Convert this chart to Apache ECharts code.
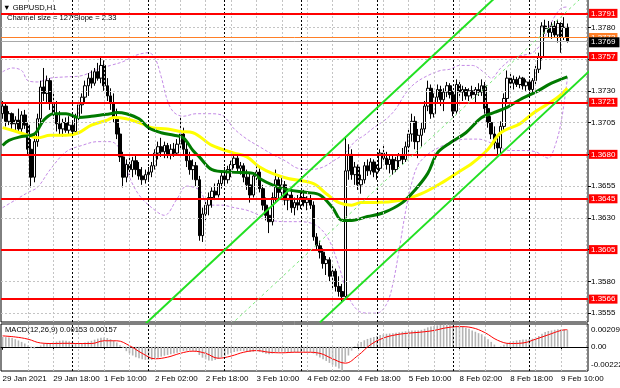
<!DOCTYPE html>
<html><head><meta charset="utf-8">
<script src="https://cdn.jsdelivr.net/npm/echarts@6/dist/echarts.min.js"></script>
<style>html,body{margin:0;padding:0;background:#fff}#c{width:620px;height:388px}</style>
</head><body><div id="c"></div>
<script>
const FONT = '"Liberation Sans", Arial, sans-serif';
const tickLabels = ['29 Jan 2021','29 Jan 18:00','1 Feb 10:00','2 Feb 02:00','2 Feb 18:00','3 Feb 10:00','4 Feb 02:00','4 Feb 18:00','5 Feb 10:00','8 Feb 02:00','8 Feb 18:00','9 Feb 10:00'];
const priceTicks = [1.3555,1.3580,1.3605,1.3630,1.3655,1.3680,1.3705,1.3730,1.3755,1.3780];
const levels = [1.3791,1.3757,1.3721,1.3680,1.3645,1.3605,1.3566];
const orangeLevel = 1.3772;
const bidPrice = 1.3769;
const macdTicks = [0.00209, 0, -0.00222];
const dayStarts = [22,46,70,94,118,142,166];
// hourly candles [open, high, low, close]
const ohlc = [
[1.3712,1.3722,1.3708,1.3718],[1.3718,1.3720,1.3702,1.3706],[1.3706,1.3714,1.3703,1.3712],[1.3712,1.3713,1.3700,1.3704],[1.3704,1.3710,1.3699,1.3707],
[1.3707,1.3716,1.3698,1.3700],[1.3700,1.3714,1.3697,1.3711],[1.3711,1.3715,1.3700,1.3703],[1.3703,1.3705,1.3680,1.3684],[1.3684,1.3692,1.3654,1.3662],
[1.3662,1.3696,1.3658,1.3690],[1.3690,1.3712,1.3686,1.3708],[1.3708,1.3738,1.3704,1.3733],[1.3733,1.3748,1.3722,1.3728],[1.3728,1.3742,1.3720,1.3738],
[1.3738,1.3740,1.3715,1.3720],[1.3720,1.3730,1.3708,1.3712],[1.3712,1.3722,1.3698,1.3704],[1.3704,1.3714,1.3695,1.3700],[1.3700,1.3708,1.3694,1.3705],
[1.3705,1.3709,1.3697,1.3699],[1.3699,1.3710,1.3695,1.3703],[1.3703,1.3706,1.3693,1.3698],[1.3698,1.3712,1.3696,1.3709],[1.3709,1.3722,1.3706,1.3719],
[1.3719,1.3728,1.3712,1.3725],[1.3725,1.3738,1.3720,1.3734],[1.3734,1.3744,1.3726,1.3740],[1.3740,1.3746,1.3732,1.3736],[1.3736,1.3748,1.3734,1.3745],
[1.3745,1.3752,1.3738,1.3740],[1.3740,1.3757,1.3736,1.3750],[1.3750,1.3754,1.3730,1.3734],[1.3734,1.3740,1.3722,1.3726],[1.3726,1.3732,1.3715,1.3720],
[1.3720,1.3728,1.3705,1.3709],[1.3709,1.3716,1.3692,1.3696],[1.3696,1.3701,1.3674,1.3678],[1.3678,1.3682,1.3654,1.3662],[1.3662,1.3676,1.3658,1.3672],
[1.3672,1.3680,1.3664,1.3668],[1.3668,1.3678,1.3662,1.3675],[1.3675,1.3679,1.3664,1.3668],[1.3668,1.3674,1.3660,1.3663],[1.3663,1.3670,1.3656,1.3660],
[1.3660,1.3668,1.3657,1.3664],[1.3664,1.3670,1.3659,1.3666],[1.3666,1.3674,1.3662,1.3671],[1.3671,1.3684,1.3668,1.3681],[1.3681,1.3690,1.3676,1.3686],
[1.3686,1.3693,1.3678,1.3682],[1.3682,1.3690,1.3677,1.3687],[1.3687,1.3689,1.3677,1.3680],[1.3680,1.3688,1.3676,1.3684],[1.3684,1.3689,1.3678,1.3681],
[1.3681,1.3692,1.3679,1.3688],[1.3688,1.3710,1.3684,1.3696],[1.3696,1.3701,1.3680,1.3684],[1.3684,1.3690,1.3670,1.3675],[1.3675,1.3682,1.3664,1.3668],
[1.3668,1.3676,1.3660,1.3671],[1.3671,1.3674,1.3655,1.3660],[1.3660,1.3663,1.3612,1.3616],[1.3616,1.3638,1.3611,1.3633],[1.3633,1.3644,1.3627,1.3640],
[1.3640,1.3650,1.3632,1.3646],[1.3646,1.3654,1.3638,1.3651],[1.3651,1.3657,1.3644,1.3648],[1.3648,1.3660,1.3646,1.3657],[1.3657,1.3667,1.3653,1.3663],
[1.3663,1.3670,1.3656,1.3660],[1.3660,1.3671,1.3657,1.3668],[1.3668,1.3675,1.3662,1.3672],[1.3672,1.3681,1.3669,1.3677],[1.3677,1.3680,1.3666,1.3669],
[1.3669,1.3674,1.3664,1.3671],[1.3671,1.3673,1.3658,1.3662],[1.3662,1.3668,1.3652,1.3656],[1.3656,1.3665,1.3642,1.3648],[1.3648,1.3666,1.3646,1.3663],
[1.3663,1.3673,1.3658,1.3666],[1.3666,1.3669,1.3650,1.3653],[1.3653,1.3656,1.3636,1.3640],[1.3640,1.3646,1.3628,1.3632],[1.3632,1.3638,1.3618,1.3627],
[1.3627,1.3650,1.3624,1.3646],[1.3646,1.3668,1.3642,1.3660],[1.3660,1.3664,1.3645,1.3650],[1.3650,1.3662,1.3644,1.3656],[1.3656,1.3659,1.3640,1.3644],
[1.3644,1.3652,1.3636,1.3648],[1.3648,1.3651,1.3634,1.3638],[1.3638,1.3646,1.3632,1.3642],[1.3642,1.3648,1.3636,1.3640],[1.3640,1.3650,1.3637,1.3646],
[1.3646,1.3652,1.3639,1.3642],[1.3642,1.3647,1.3636,1.3645],[1.3645,1.3648,1.3637,1.3640],[1.3640,1.3643,1.3612,1.3615],[1.3615,1.3618,1.3604,1.3608],
[1.3608,1.3612,1.3598,1.3603],[1.3603,1.3606,1.3590,1.3594],[1.3594,1.3600,1.3585,1.3597],[1.3597,1.3599,1.3580,1.3584],[1.3584,1.3592,1.3574,1.3588],
[1.3588,1.3590,1.3572,1.3576],[1.3576,1.3584,1.3568,1.3572],[1.3572,1.3578,1.3563,1.3568],[1.3568,1.3694,1.3566,1.3667],[1.3667,1.3688,1.3660,1.3680],
[1.3680,1.3684,1.3660,1.3664],[1.3664,1.3674,1.3656,1.3670],[1.3670,1.3672,1.3652,1.3656],[1.3656,1.3664,1.3649,1.3660],[1.3660,1.3674,1.3657,1.3671],
[1.3671,1.3676,1.3663,1.3667],[1.3667,1.3677,1.3664,1.3674],[1.3674,1.3676,1.3662,1.3666],[1.3666,1.3672,1.3660,1.3669],[1.3669,1.3684,1.3667,1.3681],
[1.3681,1.3688,1.3674,1.3677],[1.3677,1.3682,1.3668,1.3672],[1.3672,1.3680,1.3665,1.3676],[1.3676,1.3679,1.3664,1.3668],[1.3668,1.3678,1.3666,1.3675],
[1.3675,1.3681,1.3670,1.3679],[1.3679,1.3685,1.3672,1.3676],[1.3676,1.3690,1.3674,1.3686],[1.3686,1.3700,1.3680,1.3696],[1.3696,1.3712,1.3690,1.3706],
[1.3706,1.3710,1.3684,1.3690],[1.3690,1.3700,1.3677,1.3695],[1.3695,1.3705,1.3686,1.3700],[1.3700,1.3722,1.3697,1.3718],[1.3718,1.3738,1.3714,1.3732],
[1.3732,1.3735,1.3708,1.3712],[1.3712,1.3728,1.3709,1.3725],[1.3725,1.3735,1.3721,1.3731],[1.3731,1.3734,1.3718,1.3723],[1.3723,1.3732,1.3714,1.3729],
[1.3729,1.3737,1.3725,1.3734],[1.3734,1.3736,1.3724,1.3727],[1.3727,1.3730,1.3710,1.3714],[1.3714,1.3739,1.3712,1.3735],[1.3735,1.3738,1.3726,1.3729],
[1.3729,1.3734,1.3722,1.3731],[1.3731,1.3733,1.3723,1.3726],[1.3726,1.3732,1.3722,1.3730],[1.3730,1.3734,1.3724,1.3727],[1.3727,1.3733,1.3721,1.3731],
[1.3731,1.3736,1.3726,1.3729],[1.3729,1.3739,1.3726,1.3734],[1.3734,1.3737,1.3712,1.3716],[1.3716,1.3720,1.3701,1.3705],[1.3705,1.3710,1.3692,1.3696],
[1.3696,1.3702,1.3684,1.3689],[1.3689,1.3694,1.3680,1.3685],[1.3685,1.3706,1.3680,1.3702],[1.3702,1.3728,1.3698,1.3724],[1.3724,1.3746,1.3720,1.3740],
[1.3740,1.3744,1.3732,1.3736],[1.3736,1.3742,1.3731,1.3739],[1.3739,1.3741,1.3733,1.3735],[1.3735,1.3742,1.3732,1.3740],[1.3740,1.3741,1.3731,1.3734],
[1.3734,1.3739,1.3730,1.3737],[1.3737,1.3739,1.3728,1.3731],[1.3731,1.3740,1.3728,1.3738],[1.3738,1.3750,1.3735,1.3747],[1.3747,1.3760,1.3744,1.3757],
[1.3757,1.3784,1.3754,1.3781],[1.3781,1.3786,1.3775,1.3779],[1.3779,1.3785,1.3772,1.3776],[1.3776,1.3784,1.3771,1.3781],[1.3781,1.3785,1.3772,1.3774],
[1.3774,1.3786,1.3768,1.3783],[1.3783,1.3784,1.3760,1.3772],[1.3772,1.3788,1.3770,1.3780],[1.3780,1.3783,1.3768,1.3769]
];
// moving averages and bands, sampled [bar, price]
const maGreen = [[0,1.3687],[2,1.3691],[6,1.3694],[10,1.3696],[13,1.3707],[16,1.3712],[20,1.3712],[24,1.3709],[28,1.3710],[31,1.3711],[34,1.3712],[36,1.3713],[39,1.3712],[43,1.3708],[46,1.3701],[50,1.3697],[54,1.3695],[57,1.3693],[60,1.3683],[62,1.3678],[66,1.3668],[72,1.3666],[79,1.3665],[81,1.3661],[85,1.3656],[90,1.3652],[96,1.3650],[100,1.3648],[104,1.3638],[107,1.3628],[110,1.3628],[115,1.3631],[120,1.3634],[126,1.3642],[130,1.3652],[134,1.3665],[137,1.3681],[141,1.3689],[146,1.3697],[151,1.3709],[155,1.3713],[159,1.3717],[163,1.3723],[168,1.3729],[173,1.3736],[178,1.3741]];
const maYellow = [[0,1.3701],[3,1.3699],[8,1.3695],[11,1.3693],[15,1.3695],[20,1.3695],[24,1.3697],[28,1.3703],[33,1.3707],[35,1.3709],[39,1.3708],[44,1.3704],[47,1.3701],[52,1.3700],[56,1.3698],[60,1.3697],[66,1.3687],[73,1.3681],[77,1.3678],[81,1.3670],[85,1.3665],[90,1.3661],[98,1.3657],[102,1.3649],[106,1.3642],[110,1.3640],[113,1.3642],[117,1.3642],[126,1.3644],[132,1.3649],[138,1.3657],[143,1.3665],[148,1.3673],[153,1.3684],[157,1.3697],[163,1.3704],[167,1.3712],[172,1.3720],[175,1.3725],[178,1.3732]];
const bandUpper = [[0,1.3745],[3,1.3748],[6,1.3746],[8,1.3738],[11,1.3737],[15,1.3740],[20,1.3741],[25,1.3742],[30,1.3747],[34,1.3750],[38,1.3753],[42,1.3758],[46,1.3760],[48,1.3756],[50,1.3741],[52,1.3722],[54,1.3713],[57,1.3710],[61,1.3712],[65,1.3712],[69,1.3711],[73,1.3700],[77,1.3692],[81,1.3686],[85,1.3680],[89,1.3675],[93,1.3669],[97,1.3668],[101,1.3670],[105,1.3676],[108,1.3681],[111,1.3690],[114,1.3695],[117,1.3701],[121,1.3708],[124,1.3716],[127,1.3728],[130,1.3736],[134,1.3742],[138,1.3746],[141,1.3747],[144,1.3750],[148,1.3750],[152,1.3744],[154,1.3740],[157,1.3748],[161,1.3756],[164,1.3758],[167,1.3760],[170,1.3768],[173,1.3784],[176,1.3795],[178,1.3796]];
const bandLower = [[0,1.3638],[4,1.3644],[8,1.3650],[11,1.3654],[15,1.3668],[20,1.3682],[25,1.3687],[30,1.3690],[34,1.3690],[37,1.3684],[40,1.3662],[43,1.3648],[47,1.3638],[51,1.3632],[55,1.3645],[58,1.3655],[62,1.3652],[65,1.3640],[69,1.3640],[73,1.3638],[77,1.3636],[81,1.3632],[85,1.3628],[89,1.3627],[93,1.3627],[97,1.3626],[100,1.3622],[103,1.3612],[106,1.3592],[109,1.3568],[112,1.3557],[115,1.3555],[118,1.3555],[121,1.3562],[123,1.3578],[125,1.3605],[127,1.3635],[129,1.3658],[131,1.3672],[134,1.3680],[138,1.3686],[142,1.3690],[146,1.3692],[150,1.3692],[153,1.3690],[156,1.3686],[160,1.3683],[164,1.3683],[168,1.3682],[172,1.3677],[174,1.3686],[176,1.3705],[178,1.3740]];
// regression channel end points [bar, price]
const channelLower = [[100,1.35477],[185,1.37457]];
const channelUpper = [[45,1.35465],[155,1.38028]];
const channelMid = [[72,1.35460],[183,1.38046]];
// MACD(12,26,9)
const macdHist = [
0.00090,0.00088,0.00085,0.00080,0.00070,0.00058,0.00045,0.00030,0.00012,-0.00010,
-0.00015,-0.00002,0.00012,0.00025,0.00030,0.00032,0.00040,0.00048,0.00055,0.00058,
0.00056,0.00050,0.00042,0.00035,0.00030,0.00032,0.00040,0.00048,0.00055,0.00065,
0.00075,0.00082,0.00085,0.00080,0.00070,0.00058,0.00040,0.00015,-0.00010,-0.00040,
-0.00060,-0.00080,-0.00095,-0.00105,-0.00115,-0.00120,-0.00122,-0.00120,-0.00112,-0.00100,
-0.00090,-0.00082,-0.00075,-0.00068,-0.00062,-0.00055,-0.00045,-0.00040,-0.00036,-0.00034,
-0.00036,-0.00040,-0.00075,-0.00100,-0.00115,-0.00125,-0.00128,-0.00120,-0.00110,-0.00098,
-0.00085,-0.00070,-0.00058,-0.00048,-0.00042,-0.00038,-0.00038,-0.00042,-0.00048,-0.00045,
-0.00040,-0.00046,-0.00055,-0.00063,-0.00068,-0.00062,-0.00052,-0.00048,-0.00046,-0.00048,
-0.00048,-0.00050,-0.00050,-0.00050,-0.00048,-0.00046,-0.00045,-0.00046,-0.00062,-0.00080,
-0.00098,-0.00115,-0.00130,-0.00148,-0.00165,-0.00182,-0.00200,-0.00222,-0.00140,-0.00080,
-0.00035,0.00005,0.00030,0.00045,0.00060,0.00072,0.00082,0.00090,0.00098,0.00108,
0.00115,0.00120,0.00122,0.00125,0.00128,0.00132,0.00138,0.00142,0.00145,0.00150,
0.00150,0.00150,0.00155,0.00165,0.00178,0.00185,0.00190,0.00196,0.00200,0.00205,
0.00209,0.00205,0.00195,0.00195,0.00192,0.00185,0.00175,0.00165,0.00150,0.00138,
0.00125,0.00115,0.00095,0.00070,0.00045,0.00020,0.00000,0.00005,0.00018,0.00035,
0.00045,0.00052,0.00058,0.00062,0.00066,0.00068,0.00070,0.00075,0.00085,0.00100,
0.00120,0.00135,0.00145,0.00150,0.00156,0.00160,0.00160,0.00158,0.00153
];
const macdSignal = [[0,0.00100],[4,0.00090],[8,0.00070],[12,0.00035],[16,0.00030],[20,0.00032],[24,0.00030],[28,0.00030],[32,0.00055],[36,0.00055],[40,0.00010],[44,-0.00060],[48,-0.00110],[52,-0.00095],[56,-0.00060],[60,-0.00040],[64,-0.00060],[68,-0.00105],[72,-0.00085],[76,-0.00050],[80,-0.00035],[84,-0.00050],[88,-0.00055],[92,-0.00050],[96,-0.00050],[100,-0.00060],[104,-0.00110],[108,-0.00150],[112,-0.00080],[116,0.00020],[120,0.00080],[124,0.00110],[128,0.00125],[132,0.00135],[136,0.00150],[140,0.00175],[144,0.00185],[148,0.00175],[152,0.00130],[156,0.00060],[160,0.00030],[164,0.00035],[168,0.00070],[172,0.00110],[176,0.00150],[178,0.00157]];

// hourly category axis (weekends skipped)
const N = 185;
const categories = [];
(function () {
  const M = ['Jan', 'Feb'];
  let t = Date.UTC(2021, 0, 29, 2);
  while (categories.length < N) {
    const d = new Date(t), wd = d.getUTCDay();
    if (wd !== 0 && wd !== 6) categories.push(d.getUTCDate() + ' ' + M[d.getUTCMonth()] + ' ' + String(d.getUTCHours()).padStart(2, '0') + ':00');
    t += 3600000;
  }
})();
const gridBars = [];
for (let i = 8; i < N; i += 8) gridBars.push(i);

const candleData = ohlc.map(r => [r[0], r[3], r[2], r[1]]);

const chart = echarts.init(document.getElementById('c'));
const gridLineStyle = { color: '#c4c4c4', type: [2, 2], width: 1 };
const sepStyle = { color: '#000', type: [2, 2], width: 1 };
function ml(data, lineStyle, label) {
  return { silent: true, animation: false, precision: 6, symbol: ['none', 'none'], lineStyle, label: label || { show: false }, emphasis: { disabled: true }, data };
}
function levelLabel(bg) {
  return { show: true, position: 'end', distance: 1, formatter: p => Number(p.value).toFixed(4), color: '#fff', backgroundColor: bg, padding: [1, 2, 0, 2], fontSize: 8, fontFamily: FONT };
}
const lineSeries = (data, color, width, z, type) => ({ type: 'line', data, symbol: 'none', smooth: 0.35, silent: true, z, lineStyle: { color, width, type: type || 'solid' } });

chart.setOption({
  animation: false,
  backgroundColor: '#fff',
  grid: [
    { left: 1, right: 32, top: -1, height: 323, show: true, borderColor: '#000', borderWidth: 1, backgroundColor: 'transparent', outerBoundsMode: 'none' },
    { left: 1, right: 32, top: 324, height: 47, show: true, borderColor: '#000', borderWidth: 1, backgroundColor: 'transparent', outerBoundsMode: 'none' }
  ],
  xAxis: [
    { type: 'category', gridIndex: 0, data: categories, boundaryGap: true, axisLine: { show: false }, axisTick: { show: false }, axisLabel: { show: false }, splitLine: { show: false } },
    { type: 'category', gridIndex: 1, data: categories, boundaryGap: true,
      axisLine: { show: true, lineStyle: { color: '#000' } },
      axisTick: { show: true, interval: 15, alignWithLabel: true, length: 3, lineStyle: { color: '#000' } },
      axisLabel: { show: true, interval: 15, align: 'left', margin: 4, fontSize: 8, fontFamily: FONT, color: '#000', formatter: (v, i) => tickLabels[i / 16] || '' },
      splitLine: { show: false } }
  ],
  yAxis: [
    { type: 'value', gridIndex: 0, position: 'right', min: 1.3548, max: 1.38023, scale: true,
      axisLine: { show: false }, splitLine: { show: false },
      axisTick: { show: true, customValues: priceTicks, length: 3, lineStyle: { color: '#000' } },
      axisLabel: { show: true, customValues: priceTicks, margin: 3, fontSize: 8, fontFamily: FONT, color: '#000', formatter: v => v.toFixed(4) } },
    { type: 'value', gridIndex: 1, position: 'right', min: -0.00222, max: 0.00209,
      axisLine: { show: false }, splitLine: { show: false },
      axisTick: { show: false },
      axisLabel: { show: true, customValues: macdTicks, margin: 3, fontSize: 8, fontFamily: FONT, color: '#000',
        formatter: v => { const s = v === 0 ? '0.00' : v.toFixed(5); return v > 0 ? '{t|' + s + '}' : (v < 0 ? '{b|' + s + '}' : s); },
        rich: { t: { padding: [12, 0, 0, 0], fontSize: 8, fontFamily: FONT, color: '#000' }, b: { padding: [0, 0, 12, 0], fontSize: 8, fontFamily: FONT, color: '#000' } } } }
  ],
  graphic: [
    { type: 'text', left: 3, top: 4, silent: true, style: { text: '\u25BC GBPUSD,H1', font: '7.6px ' + FONT, fill: '#000' } },
    { type: 'text', left: 7, top: 14, silent: true, style: { text: "Channel size = 127'Slope = 2.33", font: '7.6px ' + FONT, fill: '#000' } },
    { type: 'text', left: 5, top: 326, silent: true, style: { text: 'MACD(12,26,9) 0.00153 0.00157', font: '7.6px ' + FONT, fill: '#000' } }
  ],
  series: [
    { type: 'line', data: [], z: 1, silent: true, markLine: ml([...priceTicks.map(v => ({ yAxis: v })), ...gridBars.map(i => ({ xAxis: i }))], gridLineStyle) },
    { type: 'line', data: [], z: 1, silent: true, markLine: ml(dayStarts.map(i => ({ xAxis: i })), sepStyle) },
    { type: 'line', xAxisIndex: 1, yAxisIndex: 1, data: [], z: 1, silent: true, markLine: ml(gridBars.map(i => ({ xAxis: i })), gridLineStyle) },
    { type: 'line', xAxisIndex: 1, yAxisIndex: 1, data: [], z: 1, silent: true, markLine: ml(dayStarts.map(i => ({ xAxis: i })), sepStyle) },
    lineSeries(bandUpper, '#c48ae6', 1, 2, [3, 2]),
    lineSeries(bandLower, '#c48ae6', 1, 2, [3, 2]),
    { type: 'candlestick', data: candleData, z: 3, barWidth: 3, silent: true,
      itemStyle: { color: '#ffffff', color0: '#000000', borderColor: '#000000', borderColor0: '#000000', borderWidth: 1 } },
    lineSeries(maYellow, '#ffff00', 3, 4),
    lineSeries(maGreen, '#007a00', 3, 4),
    { type: 'line', data: channelMid, symbol: 'none', silent: true, z: 5, lineStyle: { color: '#7ee87e', width: 1, type: [3, 3] } },
    { type: 'line', data: channelUpper, symbol: 'none', silent: true, z: 5, lineStyle: { color: '#22e022', width: 2 } },
    { type: 'line', data: channelLower, symbol: 'none', silent: true, z: 5, lineStyle: { color: '#22e022', width: 2 } },
    { type: 'line', data: [], z: 6, silent: true, markLine: ml(levels.map(v => ({ yAxis: v })), { color: '#ff0000', width: 2, type: 'solid' }, levelLabel('#ff0000')) },
    { type: 'line', data: [], z: 7, silent: true, markLine: ml([{ yAxis: orangeLevel }], { color: '#ff7f27', width: 1, type: 'solid' }, levelLabel('#ff7f27')) },
    { type: 'line', data: [], z: 8, silent: true, markLine: ml([{ yAxis: bidPrice }], { color: '#a8a8a8', width: 1, type: 'solid' }, Object.assign(levelLabel('#000000'), { padding: [1, 4, 1, 2], offset: [0, 1] })) },
    { type: 'bar', xAxisIndex: 1, yAxisIndex: 1, data: macdHist, barWidth: 1.6, silent: true, z: 2, itemStyle: { color: '#b4b4b4' } },
    { type: 'line', xAxisIndex: 1, yAxisIndex: 1, data: macdSignal, symbol: 'none', smooth: 0.4, silent: true, z: 3, lineStyle: { color: '#ff0000', width: 1 } }
  ]
});
</script>
</body></html>
